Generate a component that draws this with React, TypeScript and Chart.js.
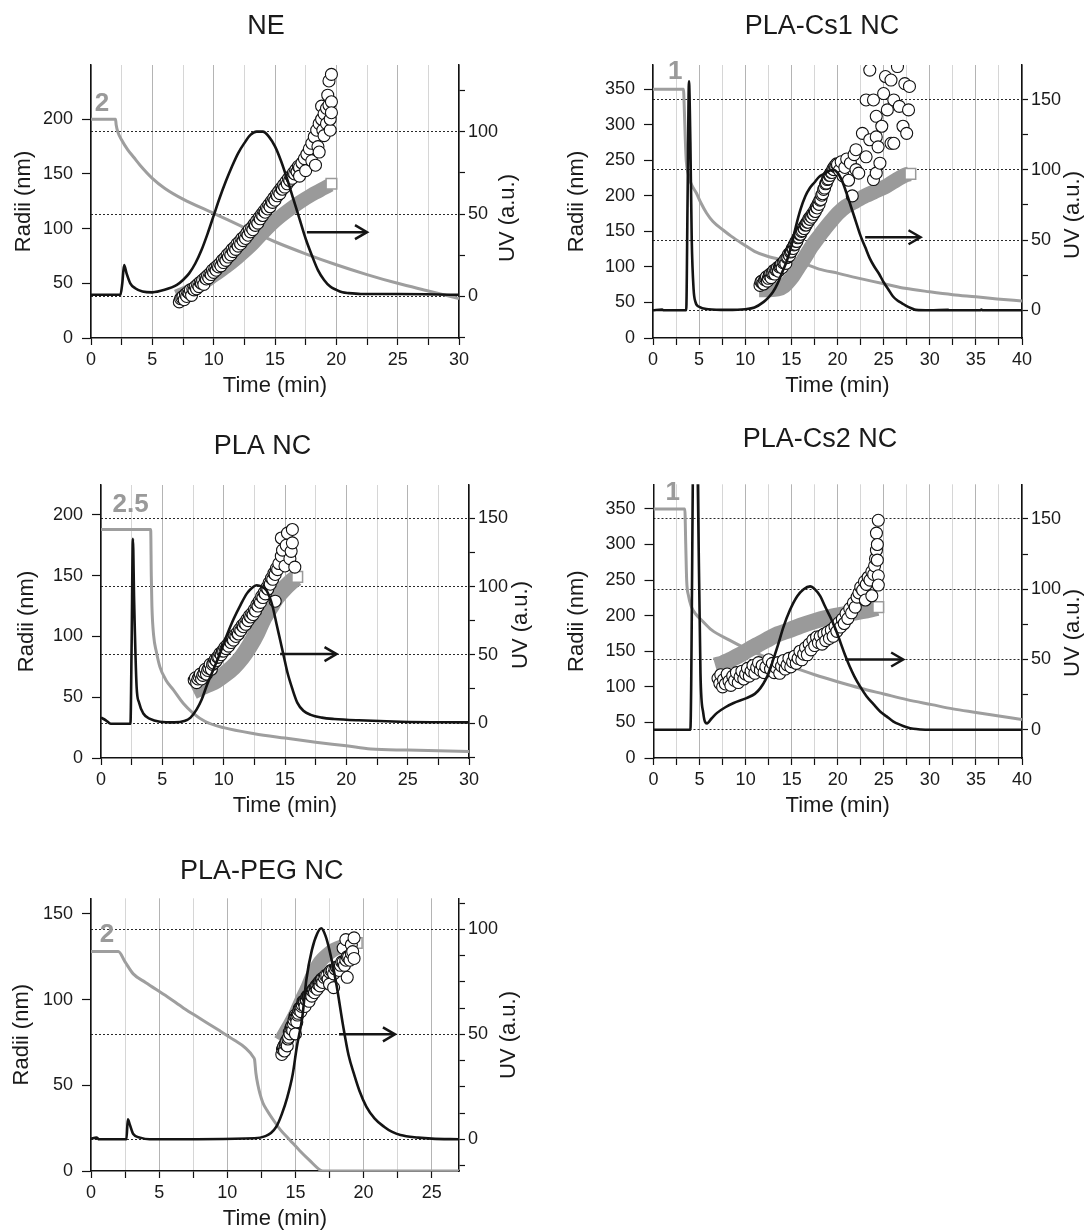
import React, { useEffect, useRef } from 'react';
import { Chart, registerables } from 'chart.js';

Chart.register(...registerables);
Chart.defaults.font.family = '"Liberation Sans", Arial, sans-serif';

type P = [number, number];

// ---------------- NE ----------------
const neFlow: P[] = [[0,200],[2,200],[2.05,195],[2.2,188],[2.5,181],[3,172],[3.5,165],[4,158],[5,146],[6,137],[7.5,127],[10,114],[12.5,101],[15,88],[17.5,77],[20,67],[22.5,58],[25,50],[27.5,43],[30,36]];
const neUV: P[] = [[0,1],[2.4,1],[2.55,8],[2.7,19],[2.9,14],[3.2,8],[3.6,5],[4.2,3],[5,2.5],[6,4],[7,7],[7.5,10],[8,14],[8.5,20],[9,28],[9.5,38],[10,49],[10.5,60],[11,70],[11.5,79],[12,87],[12.5,93],[13,98],[13.5,100],[14,100],[14.5,97],[15,91],[15.5,82],[16,71],[16.5,59],[17,47],[17.5,35],[18,25],[18.5,16],[19,10],[19.5,6],[20,4],[20.5,2.5],[21,2],[22,1.5],[25,1.5],[30,1]];
const neRadii: P[] = [[7.2,33],[7.4,37],[7.6,35],[7.8,38],[8.0,41],[8.2,39],[8.4,44],[8.6,45],[8.8,47],[9.0,50],[9.2,49],[9.4,54],[9.6,55],[9.8,58],[10.0,60],[10.2,62],[10.4,65],[10.6,66],[10.8,69],[11.0,71],[11.2,74],[11.4,76],[11.6,79],[11.8,81],[12.0,84],[12.2,86],[12.4,89],[12.6,91],[12.8,94],[13.0,97],[13.2,99],[13.4,103],[13.6,105],[13.8,109],[14.0,112],[14.2,115],[14.4,118],[14.6,120],[14.8,124],[15.0,126],[15.2,130],[15.4,132],[15.6,136],[15.8,138],[16.0,141],[16.2,144],[16.4,146],[16.6,150],[16.8,152],[17.0,156],[17.2,160],[17.4,164],[17.6,168],[17.8,173],[18.0,178],[18.2,184],[18.4,190],[18.6,196],[18.8,200],[19.0,205],[19.2,210],[19.4,213],[19.6,216],[17.0,148],[17.5,153],[18.0,162],[18.3,158],[18.6,170],[18.5,175],[19.0,185],[18.9,190],[19.5,190],[19.2,196],[19.5,200],[19.6,206],[18.8,212],[19.3,222],[19.4,235],[19.6,241]];
const neRadiiB: P[] = [[7.3,36],[7.5,38],[7.7,40],[7.9,42],[8.1,44],[8.3,45],[8.5,47],[8.7,49],[8.9,51],[9.1,53],[9.3,55],[9.5,57],[9.7,59],[9.9,62],[10.1,64],[10.3,66],[10.5,68],[10.7,71],[10.9,73],[11.1,76],[11.3,78],[11.5,81],[11.7,83],[11.9,86],[12.1,88],[12.3,91],[12.5,93],[12.7,96],[12.9,99],[13.1,101],[13.3,104],[13.5,107],[13.7,110],[13.9,113],[14.1,116],[14.3,119],[14.5,122],[14.7,125],[14.9,128],[15.1,131],[15.3,134],[15.5,137],[15.7,140],[15.9,143],[16.1,146],[16.3,148],[16.5,151],[16.7,154],[16.9,157]];
const neBand: P[] = [[7,38],[8,43],[9,49],[10,57],[11,65],[12,74],[13,84],[14,96],[15,107],[16,116],[17,124],[18,131],[19,137],[19.5,140]];
const neBandEnd: P[] = [[19.6,141]];
const neArrow: number[] = [17.6, 22.5, 39];
const neLabel: P = [0.9, 214];

// ---------------- PLA-Cs1 NC ----------------
const cs1Flow: P[] = [[0,350],[3.3,350],[3.4,320],[3.5,280],[3.6,250],[3.8,232],[4.1,218],[4.7,204],[5.2,190],[5.8,176],[6.5,164],[7.6,152],[8.5,143],[9.9,131],[11,122],[12.4,115],[14,110],[16.5,104],[18,97],[20.1,91],[22,85],[23.7,80],[25.5,75],[27.3,70],[30,65],[32.5,61],[35,58],[37.3,55],[40,52]];
const cs1UV: P[] = [[0,0],[1,0.5],[1.1,0],[3.6,0],[3.75,80],[3.9,163],[4.05,120],[4.2,50],[4.4,15],[4.6,6],[5,2.5],[6,0.8],[8,0.3],[10,0.8],[11,2],[12,6],[12.5,9],[13,13],[13.5,19],[14,27],[14.5,35],[15,46],[15.5,60],[16,72],[16.5,81],[17,87],[17.5,91],[18,95],[18.5,97],[19,99],[19.5,100],[20,98],[20.5,92],[21,83],[21.5,73],[22,63],[22.5,53],[23,45],[23.5,37],[24,31],[24.5,26],[25,20],[25.5,15],[26,10],[26.5,7],[27,5],[27.5,3],[28,1.5],[28.5,0.3],[30,0],[32,0.3],[32.1,0],[35.5,0],[35.6,0.5],[35.7,0],[40,0]];
const cs1Radii: P[] = [[11.6,74],[11.8,80],[12.0,76],[12.2,84],[12.4,80],[12.6,88],[12.8,85],[13.0,92],[13.2,90],[13.4,96],[13.6,94],[13.8,101],[14.0,99],[14.2,107],[14.4,105],[14.6,114],[14.8,116],[15.0,122],[15.2,126],[15.4,132],[15.6,136],[15.8,142],[16.0,146],[16.2,151],[16.4,154],[16.6,159],[16.8,163],[17.0,167],[17.2,170],[17.4,174],[17.6,178],[17.8,183],[18.0,188],[18.2,195],[18.4,203],[18.6,211],[18.8,218],[19.0,224],[19.2,229],[19.4,233],[19.6,237],[19.8,241],[20.0,244],[20.2,236],[20.4,248],[20.6,228],[20.8,240],[21.0,252],[21.2,222],[21.4,246],[21.6,200],[21.8,258],[22.0,265],[22.0,237],[22.3,232],[22.7,288],[23.1,255],[23.1,335],[23.5,279],[23.5,377],[23.9,223],[23.9,335],[24.2,232],[24.2,283],[24.2,312],[24.4,269],[24.6,246],[24.8,298],[25.0,344],[25.2,368],[25.4,321],[25.8,274],[25.8,363],[26.1,335],[26.1,274],[26.5,382],[26.7,326],[27.1,298],[27.3,358],[27.5,288],[27.7,321],[27.8,354]];
const cs1RadiiB: P[] = [[11.7,79],[11.9,77],[12.1,82],[12.3,86],[12.5,84],[12.7,90],[12.9,91],[13.1,95],[13.3,96],[13.5,99],[13.7,100],[13.9,104],[14.1,106],[14.3,110],[14.5,113],[14.7,118],[14.9,121],[15.1,126],[15.3,131],[15.5,136],[15.7,141],[15.9,146],[16.1,150],[16.3,155],[16.5,159],[16.7,163],[16.9,168],[17.1,171],[17.3,175],[17.5,179],[17.7,184],[17.9,189],[18.1,194],[18.3,201],[18.5,209],[18.7,217],[18.9,223],[19.1,229],[19.3,233],[19.5,238],[19.7,242],[19.9,245]];
const cs1Band: P[] = [[11.5,68],[12.5,68],[13.5,69],[14.2,73],[15.1,86],[15.8,100],[16.5,114],[17.2,129],[18,143],[18.7,155],[19.4,166],[20.1,176],[20.9,185],[22,193],[23,200],[24,206],[25.2,213],[26.2,221],[27.3,229],[27.8,231]];
const cs1BandEnd: P[] = [[27.9,231]];
const cs1Arrow: number[] = [23.0, 29.0, 52];
const cs1Label: P = [2.4, 375];

// ---------------- PLA NC ----------------
const plaFlow: P[] = [[0,188],[4.05,188],[4.1,150],[4.15,125],[4.3,100],[4.5,88],[4.8,75],[5.3,64],[5.9,56],[6.7,45],[7.5,37],[8.5,30],[10,25],[12.5,20],[15,16.4],[17.5,13],[20,10],[22,7.4],[25,6.5],[30,5.4]];
const plaUV: P[] = [[0,4],[0.4,2],[0.8,-0.5],[2.4,-0.5],[2.5,60],[2.6,135],[2.7,90],[2.9,27],[3.1,15],[3.45,7],[4,3],[4.8,1],[6,0.5],[6.8,1.5],[7.3,4],[7.8,10],[8.2,17],[8.6,27],[9.2,40],[9.7,51],[10.2,63],[10.8,76],[11.4,87],[11.9,95],[12.3,99],[12.7,101],[13.1,100],[13.5,97],[13.8,91],[14.0,85],[14.3,73],[14.6,61],[14.9,49],[15.2,37],[15.6,25],[16,15],[16.5,9],[17.1,6],[18,4],[19,3],[21,2],[24.4,1],[30,0.5]];
const plaRadii: P[] = [[7.6,64],[7.8,62],[8.0,67],[8.2,65],[8.4,70],[8.6,69],[8.8,74],[9.0,73],[9.2,78],[9.4,80],[9.6,83],[9.8,85],[10.0,88],[10.2,90],[10.4,92],[10.6,95],[10.8,97],[11.0,100],[11.2,102],[11.4,105],[11.6,108],[11.8,110],[12.0,113],[12.2,116],[12.4,118],[12.6,121],[12.8,125],[13.0,128],[13.2,132],[13.4,135],[13.6,139],[13.8,143],[14.0,147],[14.2,151],[14.4,155],[14.5,160],[14.7,166],[14.8,171],[14.7,181],[15.0,158],[15.1,175],[15.2,185],[15.4,164],[15.5,170],[15.6,177],[15.6,188],[15.8,157],[14.2,129]];
const plaRadiiB: P[] = [[7.7,66],[7.9,65],[8.1,69],[8.3,68],[8.5,73],[8.7,72],[8.9,77],[9.1,77],[9.3,81],[9.5,83],[9.7,86],[9.9,88],[10.1,91],[10.3,93],[10.5,96],[10.7,98],[10.9,101],[11.1,103],[11.3,106],[11.5,109],[11.7,111],[11.9,114],[12.1,117],[12.3,119],[12.5,122],[12.7,126],[12.9,129],[13.1,133],[13.3,136],[13.5,140],[13.7,144],[13.9,148],[14.1,152],[14.3,156]];
const plaBand: P[] = [[7.5,55],[8.1,58],[8.8,61],[9.4,64],[10.1,69],[10.8,75],[11.5,83],[12.1,92],[12.7,103],[13.2,114],[13.8,124],[14.3,132],[14.9,139],[15.4,144],[15.9,148]];
const plaBandEnd: P[] = [[16.0,149]];
const plaArrow: number[] = [14.6, 19.2, 50.5];
const plaLabel: P = [2.42, 208];

// ---------------- PLA-Cs2 NC ----------------
const cs2Flow: P[] = [[0,350],[3.4,350],[3.5,300],[3.6,250],[3.8,228],[4.1,213],[4.6,202],[5.2,194],[6.3,180],[8.2,166],[10,154],[12.5,140],[14.8,129],[17.5,117],[19.9,107.5],[22.5,98],[25,90],[27.5,82],[30.2,75],[32.5,69],[35,64],[37.5,59],[40,54]];
const cs2UV: P[] = [[0,0],[4.0,0],[4.35,230],[4.55,260],[4.8,180],[5.1,40],[5.4,12],[5.8,4.5],[6.3,8],[6.9,12],[7.8,16],[8.7,19],[10.1,22.5],[11,25.5],[11.6,29.6],[12.2,36],[12.6,42],[13,50],[13.5,60],[14.1,73],[14.8,85],[15.6,95],[16.3,100],[17,102],[17.5,100],[18.1,95],[18.6,88],[19.2,80],[19.8,71],[20.3,62],[20.8,53],[21.3,45],[21.8,38],[22.4,31],[23.1,24],[23.9,18],[24.6,13],[25.3,9.5],[26,6],[26.8,3.5],[27.5,1.8],[28.2,0.7],[29,0.2],[30,0],[40,0]];
const cs2Radii: P[] = [[7.0,112],[7.2,105],[7.3,117],[7.5,100],[7.6,110],[7.8,104],[8.0,118],[8.2,108],[8.4,102],[8.6,115],[8.8,109],[9.0,120],[9.2,106],[9.4,114],[9.6,122],[9.8,111],[10.0,118],[10.2,126],[10.4,115],[10.6,122],[10.8,130],[11.0,119],[11.2,127],[11.4,134],[11.6,123],[11.8,130],[12.0,120],[12.2,128],[12.5,138],[12.7,125],[12.9,133],[13.1,120],[13.3,127],[13.5,134],[13.7,119],[13.9,129],[14.1,137],[14.3,125],[14.5,131],[14.7,140],[14.9,128],[15.1,135],[15.3,143],[15.5,133],[15.7,140],[15.9,150],[16.1,138],[16.3,146],[16.5,155],[16.7,145],[16.9,160],[17.1,152],[17.3,166],[17.5,158],[17.7,170],[17.9,162],[18.1,171],[18.3,160],[18.5,174],[18.7,165],[18.9,177],[19.1,168],[19.3,180],[19.5,171],[19.7,185],[19.9,178],[20.1,190],[20.3,184],[20.5,195],[20.7,189],[20.9,203],[21.1,196],[21.3,210],[21.5,204],[21.7,218],[21.9,212],[22.1,226],[22.3,232],[22.5,240],[22.7,236],[22.9,248],[23.1,244],[23.3,254],[23.5,250],[23.7,262],[23.9,258],[24.0,270],[24.1,280],[24.2,292],[24.3,300],[24.2,316],[24.4,334],[24.3,278],[24.4,256],[24.4,243],[23.7,228],[23.0,222]];
const cs2RadiiB: P[] = [];
const cs2Band: P[] = [[6.7,130],[7.5,133],[8.5,139],[9.4,145],[10.3,152],[11.3,159],[12.3,166],[13.5,174],[14.8,180],[16,186],[17.4,192],[18.8,197],[20.3,201],[21.6,204],[23,207],[24.3,211]];
const cs2BandEnd: P[] = [[24.4,212]];
const cs2Arrow: number[] = [20.8, 27.1, 50];
const cs2Label: P = [2.1, 372];

// ---------------- PLA-PEG NC ----------------
const pegFlow: P[] = [[0,128],[2,128],[2.5,122],[3.1,115],[4,110],[5.6,101.7],[6.8,95],[8,89],[9.3,82.5],[10.5,76.4],[11.3,72],[11.95,66],[12.0,65],[12.1,57],[12.25,50],[12.4,45],[12.6,40],[12.9,35.6],[13.4,29.5],[13.9,24],[14.6,18],[15.3,12],[16,6.5],[16.8,0.6],[17,0],[27,0]];
const pegUV: P[] = [[0,0.3],[0.4,0.8],[0.6,0],[2.6,0],[2.7,9.5],[2.85,7],[3.1,2.5],[3.6,0.8],[4.3,0],[12,0.5],[12.8,1.5],[13.2,3],[13.6,6],[14.0,12],[14.4,20],[14.8,31],[15.1,44],[15.5,58],[15.8,76],[16.2,90],[16.6,98],[16.9,100.5],[17.2,97],[17.5,90],[18.0,74],[18.5,54],[18.9,40],[19.3,31],[19.7,23],[20.2,15.6],[20.8,10],[21.5,6],[22.1,3.5],[22.7,2],[24,0.8],[25,0.3],[27,0]];
const pegRadii: P[] = [[14.0,68],[14.1,72],[14.2,70],[14.3,75],[14.4,73],[14.5,78],[14.6,80],[14.7,84],[14.8,82],[14.9,88],[15.0,91],[15.1,87],[15.2,92],[15.3,95],[15.4,93],[15.5,97],[15.6,99],[15.7,96],[15.8,100],[15.9,102],[16.0,99],[16.1,104],[16.2,102],[16.3,106],[16.4,104],[16.5,108],[16.6,106],[16.7,110],[16.8,108],[16.9,112],[17.0,110],[17.2,114],[17.4,112],[17.6,117],[17.8,115],[18.0,119],[18.2,117],[18.4,122],[18.6,120],[18.8,125],[19.0,123],[19.2,128],[19.3,124],[19.1,132],[18.7,135],[19.3,136],[18.5,130],[17.8,107],[17.5,109],[18.8,113],[15.0,80]];
const pegRadiiB: P[] = [[14.05,71],[14.15,73],[14.25,74],[14.35,76],[14.45,77],[14.55,81],[14.65,83],[14.75,85],[14.85,86],[14.95,90],[15.05,90],[15.15,91],[15.25,94],[15.35,95],[15.45,96],[15.55,99],[15.65,99],[15.75,100],[15.85,102],[15.95,102],[16.05,103],[16.15,104],[16.25,105],[16.35,106],[16.45,107],[16.55,108],[16.65,109],[16.75,110],[16.85,111],[16.95,112],[17.1,113],[17.3,114],[17.5,116],[17.7,117],[17.9,118],[18.1,119],[18.3,120],[18.5,122],[18.7,123],[18.9,125],[19.1,127]];
const pegBand: P[] = [[13.9,76],[14.4,83],[14.9,90],[15.4,99],[15.9,107.5],[16.3,115],[16.8,122],[17.3,126],[17.8,129],[18.4,131],[19,132],[19.4,133]];
const pegBandEnd: P[] = [[19.5,133]];
const pegArrow: number[] = [18.2, 22.3, 50];
const pegLabel: P = [1.17, 138];

// ---------------- layout / style ----------------
const RW = 66;
const BH = 65;
const FONT = '"Liberation Sans", Arial, sans-serif';

type Cfg = {
  title: string; titleX: number; titleY: number;
  left: number; right: number; top: number; bottom: number; lw: number;
  xMax: number; yMax: number; uvMin: number; uvMax: number; uvStep: number; uvTitleY: number; uvTitleDx: number;
  bandW: number; labelText: string;
  flow: P[]; uv: P[]; radii: P[]; radiiB: P[]; band: P[]; bandEnd: P[]; arrow: number[]; label: P;
};

const panels: Cfg[] = [
  { title: 'NE', titleX: 266, titleY: 27, left: 90.7, right: 459.3, top: 65, bottom: 338.3, lw: 84, xMax: 30, yMax: 249.6, uvMin: -25.2, uvMax: 140.4, uvStep: 25, uvTitleY: 218, uvTitleDx: 49, bandW: 14, labelText: '2', flow: neFlow, uv: neUV, radii: neRadii, radiiB: neRadiiB, band: neBand, bandEnd: neBandEnd, arrow: neArrow, label: neLabel },
  { title: 'PLA-Cs1 NC', titleX: 822, titleY: 27, left: 653.3, right: 1022, top: 65, bottom: 338.3, lw: 93, xMax: 40, yMax: 384.2, uvMin: -19.7, uvMax: 174.6, uvStep: 25, uvTitleY: 215, uvTitleDx: 51, bandW: 15, labelText: '1', flow: cs1Flow, uv: cs1UV, radii: cs1Radii, radiiB: cs1RadiiB, band: cs1Band, bandEnd: cs1BandEnd, arrow: cs1Arrow, label: cs1Label },
  { title: 'PLA NC', titleX: 262.5, titleY: 446.7, left: 101, right: 469.3, top: 485, bottom: 758.3, lw: 91, xMax: 30, yMax: 224.6, uvMin: -25.6, uvMax: 174.4, uvStep: 25, uvTitleY: 625, uvTitleDx: 52, bandW: 17, labelText: '2.5', flow: plaFlow, uv: plaUV, radii: plaRadii, radiiB: plaRadiiB, band: plaBand, bandEnd: plaBandEnd, arrow: plaArrow, label: plaLabel },
  { title: 'PLA-Cs2 NC', titleX: 820, titleY: 440, left: 653.3, right: 1021.8, top: 484.3, bottom: 758.3, lw: 93.5, xMax: 40, yMax: 384.6, uvMin: -20.1, uvMax: 174.6, uvStep: 25, uvTitleY: 633, uvTitleDx: 51, bandW: 16, labelText: '1', flow: cs2Flow, uv: cs2UV, radii: cs2Radii, radiiB: cs2RadiiB, band: cs2Band, bandEnd: cs2BandEnd, arrow: cs2Arrow, label: cs2Label },
  { title: 'PLA-PEG NC', titleX: 261.7, titleY: 871.7, left: 90.7, right: 459.3, top: 898.3, bottom: 1171, lw: 86, xMax: 27, yMax: 159.1, uvMin: -15.1, uvMax: 114.8, uvStep: 12.5, uvTitleY: 1035, uvTitleDx: 50, bandW: 14, labelText: '2', flow: pegFlow, uv: pegUV, radii: pegRadii, radiiB: pegRadiiB, band: pegBand, bandEnd: pegBandEnd, arrow: pegArrow, label: pegLabel },
];

const toXY = (a: P[]) => a.map(([x, y]) => ({ x, y }));
// merge the two measured tracks of circles in time order (stable)
const mergeByTime = (a: P[], b: P[]) => [...a, ...b].map((p, i) => [p, i] as [P, number]).sort((p, q) => p[0][0] - q[0][0] || p[1] - q[1]).map((e) => e[0]);

// evenly spaced tick values inside [min, max]
const tickValues = (min: number, max: number, step: number) => {
  const out: { value: number }[] = [];
  for (let k = Math.ceil(min / step - 1e-9); k * step <= max + 1e-9; k++) out.push({ value: +(k * step).toFixed(4) });
  return out;
};
const isMult = (v: number, m: number) => Math.abs(v / m - Math.round(v / m)) < 1e-6;

function Panel({ cfg }: { cfg: Cfg }) {
  const ref = useRef<HTMLCanvasElement | null>(null);
  const cLeft = Math.round(cfg.left - cfg.lw);
  const cTop = Math.round(cfg.titleY - 24);
  const w = Math.round(cfg.right - cLeft + RW);
  const h = Math.round(cfg.bottom - cTop + BH);

  useEffect(() => {
    const overlay = {
      id: 'overlay',
      afterDraw(chart: any) {
        const { ctx, chartArea, scales } = chart;
        const x = scales.x, yL = scales.y, yR = scales.uv;
        ctx.save();
        // arrow
        const ax1 = x.getPixelForValue(cfg.arrow[0]);
        const ax2 = x.getPixelForValue(cfg.arrow[1]);
        const ay = yR.getPixelForValue(cfg.arrow[2]);
        ctx.strokeStyle = '#151515';
        ctx.lineWidth = 2.5;
        ctx.beginPath(); ctx.moveTo(ax1, ay); ctx.lineTo(ax2 - 1, ay); ctx.stroke();
        ctx.beginPath(); ctx.moveTo(ax2 - 12, ay - 7); ctx.lineTo(ax2, ay); ctx.lineTo(ax2 - 12, ay + 7); ctx.stroke();
        // gradient label
        ctx.fillStyle = '#9a9a9a';
        ctx.font = 'bold 26px ' + FONT;
        ctx.textAlign = 'center';
        ctx.textBaseline = 'middle';
        ctx.fillText(cfg.labelText, x.getPixelForValue(cfg.label[0]), yL.getPixelForValue(cfg.label[1]));
        // title
        ctx.fillStyle = '#1a1a1a';
        ctx.font = '27px ' + FONT;
        ctx.fillText(cfg.title, cfg.titleX - cLeft, cfg.titleY - cTop);
        // right axis title (reads bottom-to-top)
        ctx.font = '22px ' + FONT;
        ctx.translate(chartArea.right + cfg.uvTitleDx, cfg.uvTitleY - cTop);
        ctx.rotate(-Math.PI / 2);
        ctx.fillText('UV (a.u.)', 0, 0);
        ctx.restore();
      },
    };

    const tickFont = { size: 18, family: FONT };
    const titleFont = { size: 22, family: FONT };

    const chart = new Chart(ref.current as HTMLCanvasElement, {
      type: 'line',
      data: {
        datasets: [
          { label: 'UV', data: toXY(cfg.uv), yAxisID: 'uv', borderColor: '#141414', borderWidth: 2.6, pointRadius: 0, cubicInterpolationMode: 'monotone', order: 1 },
          { label: 'Radii', data: toXY(mergeByTime(cfg.radii, cfg.radiiB)), yAxisID: 'y', showLine: false, pointStyle: 'circle', pointRadius: 6, pointBackgroundColor: '#ffffff', pointBorderColor: '#111111', pointBorderWidth: 1.1, order: 2 },
          { label: 'BandEnd', data: toXY(cfg.bandEnd), yAxisID: 'y', showLine: false, pointStyle: 'rect', pointRadius: 7.5, pointBackgroundColor: '#ffffff', pointBorderColor: '#9a9a9a', pointBorderWidth: 1.5, order: 3 },
          { label: 'Band', data: toXY(cfg.band), yAxisID: 'y', borderColor: '#9a9a9a', borderWidth: cfg.bandW, borderCapStyle: 'butt', borderJoinStyle: 'round', pointRadius: 0, tension: 0.3, order: 4 },
          { label: 'Flow', data: toXY(cfg.flow), yAxisID: 'y', borderColor: '#9e9e9e', borderWidth: 3, pointRadius: 0, cubicInterpolationMode: 'monotone', order: 5 },
        ],
      },
      options: {
        responsive: false,
        animation: false,
        devicePixelRatio: 1,
        events: [],
        layout: { padding: { top: cfg.top - cTop, left: 0, right: 0, bottom: 0 } },
        plugins: { legend: { display: false }, tooltip: { enabled: false }, title: { display: false } },
        scales: {
          x: {
            type: 'linear', position: 'bottom', min: 0, max: cfg.xMax,
            afterBuildTicks: (s: any) => { s.ticks = tickValues(0, cfg.xMax, 2.5); },
            ticks: { autoSkip: false, maxRotation: 0, padding: 4, color: '#1a1a1a', font: tickFont,
              callback: (v: any) => (isMult(v, 5) ? String(v) : '') },
            grid: { color: (c: any) => (c.tick && isMult(c.tick.value, 5) ? '#b4b4b4' : '#d6d6d6'), lineWidth: 1, drawTicks: true, tickLength: 7, tickColor: '#111', tickWidth: 1.2 },
            border: { color: '#111', width: 1.5 },
            title: { display: true, text: 'Time (min)', color: '#1a1a1a', font: titleFont, padding: { top: 4, bottom: 4 } },
            afterFit: (s: any) => { s.height = BH; },
          },
          y: {
            type: 'linear', position: 'left', min: 0, max: cfg.yMax,
            afterBuildTicks: (s: any) => { s.ticks = tickValues(0, cfg.yMax, 50); },
            ticks: { autoSkip: false, padding: 9, color: '#1a1a1a', font: tickFont, callback: (v: any) => String(v) },
            grid: { drawOnChartArea: false, drawTicks: true, tickLength: 9, tickColor: '#111', tickWidth: 1.2 },
            border: { color: '#111', width: 1.5 },
            title: { display: true, text: 'Radii (nm)', color: '#1a1a1a', font: titleFont, padding: { top: 4, bottom: 4 } },
            afterFit: (s: any) => { s.width = cfg.lw; },
          },
          uv: {
            type: 'linear', position: 'right', min: cfg.uvMin, max: cfg.uvMax,
            afterBuildTicks: (s: any) => { s.ticks = tickValues(cfg.uvMin, cfg.uvMax, cfg.uvStep); },
            ticks: { autoSkip: false, padding: 3, color: '#1a1a1a', font: tickFont,
              callback: (v: any) => (isMult(v, 50) ? String(v) : '') },
            grid: { drawOnChartArea: true, color: (c: any) => (c.tick && isMult(c.tick.value, 50) ? '#2a2a2a' : 'rgba(0,0,0,0)'), lineWidth: 1, drawTicks: true, tickLength: 6, tickColor: '#111', tickWidth: 1.2 },
            border: { color: '#111', width: 1.5, dash: [2, 2] },
            afterFit: (s: any) => { s.width = RW; },
          },
        },
      },
      plugins: [overlay],
    } as any);
    return () => chart.destroy();
  }, []);

  return (
    <canvas
      ref={ref}
      width={w}
      height={h}
      style={{ position: 'absolute', left: cLeft, top: cTop, width: w, height: h }}
    />
  );
}

export default function App() {
  return (
    <div style={{ position: 'absolute', left: 0, top: 0, width: 1089, height: 1231, overflow: 'hidden', background: '#fff' }}>
      {panels.map((p) => (
        <Panel key={p.title} cfg={p} />
      ))}
    </div>
  );
}
